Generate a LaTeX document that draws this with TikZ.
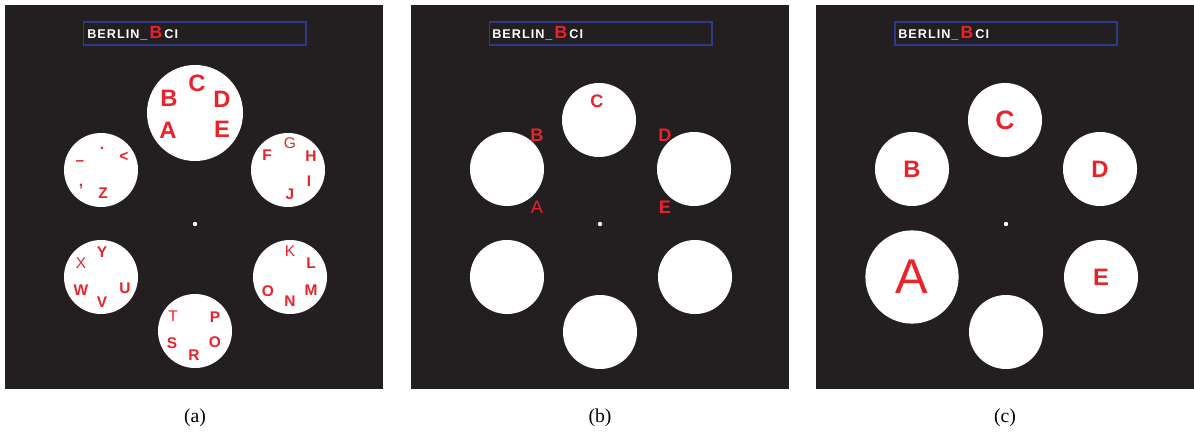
\documentclass[tikz,border=0pt]{standalone}
\usepackage{fontspec}
\setmainfont{Liberation Serif}
\newfontfamily\spellerFont{Liberation Sans}
\usepackage{xcolor}
\definecolor{screenBg}{HTML}{231F20}
\definecolor{letterRed}{HTML}{E8232A}
\definecolor{frameBlue}{HTML}{2D3A8C}
\usepackage{tikz}
\usetikzlibrary{positioning}
\newcommand{\pxSize}[1]{\fontsize{#1}{#1}\selectfont}
\tikzset{%
  screenPanel/.style={%
    rectangle,
    fill=screenBg,
    inner sep=0pt,
    minimum width=9.45cm,
    minimum height=9.6cm
  },
  titleFrame/.style={%
    rectangle,
    draw=frameBlue,
    line width=1.1pt,
    inner sep=0pt,
    minimum width=5.56cm,
    minimum height=0.575cm
  },
  targetCircle/.style={%
    circle,
    fill=white,
    inner sep=0pt,
    minimum size=1.85cm,
    text=letterRed,
    font=\spellerFont\bfseries\pxSize{16.9pt}
  },
  bigCircle/.style={%
    targetCircle,
    minimum size=2.4cm
  },
  fixDot/.style={%
    circle,
    fill=white,
    inner sep=0pt,
    minimum size=0.11cm
  },
  letterBold/.style={%
    inner sep=0pt,
    text=letterRed,
    font=\spellerFont\bfseries\pxSize{11pt}
  },
  letterThin/.style={%
    letterBold,
    font=\spellerFont\pxSize{11pt}
  },
  letterBig/.style={%
    letterBold,
    font=\spellerFont\bfseries\pxSize{16.9pt}
  },
  letterMid/.style={%
    letterBold,
    font=\spellerFont\bfseries\pxSize{12.9pt}
  },
  letterMidThin/.style={%
    letterBold,
    font=\spellerFont\pxSize{12.9pt}
  },
  panelCaption/.style={%
    inner sep=0pt,
    font=\pxSize{14pt}
  }
}
\newcommand{\speller}{{\spellerFont\bfseries\color{white}\addfontfeature{LetterSpace=8}\pxSize{9pt}BERLIN\_\,{\color{letterRed}\pxSize{12.5pt}B}\,CI}}

\begin{document}
\begin{tikzpicture}[x=0.025cm, y=-0.025cm]
    \useasboundingbox (0,0) rectangle (1194,432);

    % screens
    \node[screenPanel] (panelA) at (194,197) {};
    \node[screenPanel] (panelB) at (600,197) {};
    \node[screenPanel] (panelC) at (1005,197) {};

    % speller headline
    \node[titleFrame] (frameA) at (194.8,33.5) {};
    \node[titleFrame] (frameB) at (600.5,33.5) {};
    \node[titleFrame] (frameC) at (1006,33.5) {};
    \node[anchor=base west, inner sep=0pt] (textA) at (87,38.5) {\speller};
    \node[anchor=base west, inner sep=0pt] (textB) at (492,38.5) {\speller};
    \node[anchor=base west, inner sep=0pt] (textC) at (898,38.5) {\speller};

    % (a) first level: six groups
    \node[bigCircle] (groupA) at (195,113) {};
    \node[targetCircle] (groupB) at (101,170) {};
    \node[targetCircle] (groupC) at (288,170) {};
    \node[targetCircle] (groupD) at (101,277) {};
    \node[targetCircle] (groupE) at (290,277) {};
    \node[targetCircle] (groupF) at (195,331) {};
    \node[fixDot] (dotA) at (195,224) {};

    \node[letterBig] (aC) at (197,83) {C};
    \node[letterBig] (aB) at (169,98) {B};
    \node[letterBig] (aD) at (222,99) {D};
    \node[letterBig] (aA) at (168,130) {A};
    \node[letterBig] (aE) at (222,129) {E};

    \node[letterBold] (aDot) at (102,148) {.};
    \node[letterBold] (aLess) at (124,157) {<};
    \node[letterBold] (aDash) at (80,163) {\textendash};
    \node[letterBold] (aComma) at (81,187) {,};
    \node[letterBold] (aZ) at (103,193) {Z};

    \node[letterThin] (aG) at (290,143) {G};
    \node[letterBold] (aF) at (267,155) {F};
    \node[letterBold] (aH) at (311,156) {H};
    \node[letterBold] (aI) at (309,181) {I};
    \node[letterBold] (aJ) at (290,194) {J};

    \node[letterBold] (aY) at (102,252) {Y};
    \node[letterThin] (aX) at (81,263) {X};
    \node[letterBold] (aW) at (81,290) {W};
    \node[letterBold] (aV) at (102,302) {V};
    \node[letterBold] (aU) at (125,288) {U};

    \node[letterThin] (aK) at (290,251) {K};
    \node[letterBold] (aL) at (311,263) {L};
    \node[letterBold] (aM) at (311,290) {M};
    \node[letterBold] (aO) at (268,291) {O};
    \node[letterBold] (aN) at (290,301) {N};

    \node[letterThin] (aT) at (173,316) {T};
    \node[letterBold] (aP) at (215,317) {P};
    \node[letterBold] (aS) at (172,343) {S};
    \node[letterBold] (aO2) at (215,342) {O};
    \node[letterBold] (aR) at (194,355) {R};

    % (b) letters between the discs
    \node[targetCircle] (discC) at (599,120) {};
    \node[targetCircle] (discB) at (507,169) {};
    \node[targetCircle] (discD) at (694,169) {};
    \node[targetCircle] (discA) at (507,277) {};
    \node[targetCircle] (discE) at (695,277) {};
    \node[targetCircle] (discF) at (600,332) {};
    \node[fixDot] (dotB) at (600,224) {};

    \node[letterMid] (bC) at (597,101) {C};
    \node[letterMid] (bB) at (537,135) {B};
    \node[letterMid] (bD) at (665,135) {D};
    \node[letterMidThin] (bA) at (537,207) {A};
    \node[letterMid] (bE) at (665,207) {E};

    % (c) second level: single letters
    \node[targetCircle, font=\spellerFont\bfseries\pxSize{18.9pt}] (cC) at (1005,120) {C};
    \node[targetCircle] (cB) at (912,169) {B};
    \node[targetCircle] (cD) at (1100,169) {D};
    \node[bigCircle, minimum size=2.33cm, font=\spellerFont\pxSize{34.7pt}] (cA) at (912,277) {A};
    \node[targetCircle] (cE) at (1101,277) {E};
    \node[targetCircle] (cF) at (1006,332) {};
    \node[fixDot] (dotC) at (1006,224) {};

    % captions
    \node[panelCaption] (capA) at (195,418) {(a)};
    \node[panelCaption] (capB) at (600,418) {(b)};
    \node[panelCaption] (capC) at (1005,418) {(c)};
\end{tikzpicture}
\end{document}
